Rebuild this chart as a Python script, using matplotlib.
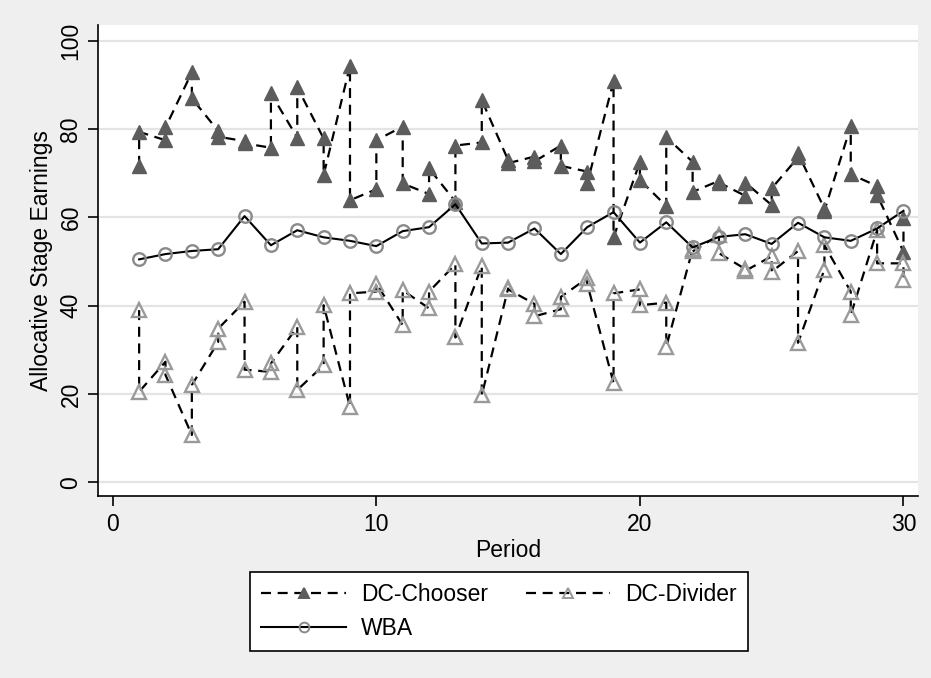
import numpy as np
import matplotlib
matplotlib.use("Agg")
from matplotlib import pyplot as plt

plt.rcParams['font.family'] = ['Liberation Sans', 'DejaVu Sans']

PERIOD = list(range(1, 31))

# two observations per period, listed in the order the line visits them
CHOOSER_A = [71.7, 77.5, 92.9, 79.6, 77.3, 75.8, 78.1, 77.9, 94.4, 66.4,
             80.6, 65.3, 63.6, 77.0, 73.0, 73.8, 76.3, 70.4, 90.9, 72.6,
             62.6, 72.6, 68.3, 64.9, 62.8, 73.6, 62.0, 80.7, 67.1, 52.2]
CHOOSER_B = [79.4, 80.4, 87.0, 78.3, 76.8, 88.1, 89.5, 69.6, 63.9, 77.5,
             67.7, 71.1, 76.3, 86.6, 72.3, 72.7, 71.7, 67.7, 55.5, 68.5,
             78.2, 65.8, 67.9, 67.9, 66.6, 74.5, 61.5, 69.8, 65.1, 59.8]

DIVIDER_A = [39.0, 27.3, 10.7, 31.8, 40.9, 25.0, 35.2, 26.5, 17.1, 43.2,
             35.6, 39.4, 49.4, 49.0, 43.9, 40.4, 39.2, 46.2, 22.5, 43.7,
             40.7, 52.8, 56.0, 48.3, 51.2, 52.4, 48.2, 43.2, 57.1, 49.6]
DIVIDER_B = [20.5, 24.3, 22.0, 34.8, 25.5, 26.9, 20.9, 40.1, 42.8, 45.0,
             43.5, 43.2, 32.8, 19.7, 43.7, 37.6, 42.0, 45.0, 42.8, 40.1,
             30.7, 52.3, 51.9, 47.9, 47.7, 31.6, 53.7, 37.9, 49.6, 45.8]

WBA = [50.5, 51.7, 52.4, 52.8, 60.3, 53.7, 57.1, 55.5, 54.7, 53.5,
       56.9, 57.8, 63.0, 54.1, 54.3, 57.5, 51.7, 57.8, 61.2, 54.3,
       58.9, 53.2, 55.6, 56.2, 54.0, 58.8, 55.5, 54.7, 57.5, 61.5]


def interleave(p, a, b):
    x = np.repeat(np.array(p), 2)
    y = np.column_stack([a, b]).ravel()
    return x, y


FS = 16.5

fig = plt.figure(figsize=(9.31, 6.78), dpi=100)
fig.patch.set_facecolor('#efefef')
ax = fig.add_axes([0.105, 0.268, 0.881, 0.695])
ax.set_facecolor('white')

for v in range(0, 101, 20):
    ax.axhline(v, color='#e4e4e4', lw=1.6, zorder=0)

x, y = interleave(PERIOD, CHOOSER_A, CHOOSER_B)
ch, = ax.plot(x, y, color='black', lw=1.6, dashes=(4.5, 3),
              marker='^', ms=10, mfc='#5c5c5c', mec='#5c5c5c',
              label='DC-Chooser', zorder=3)
x, y = interleave(PERIOD, DIVIDER_A, DIVIDER_B)
dv, = ax.plot(x, y, color='black', lw=1.6, dashes=(4.5, 3),
              marker='^', ms=10, mfc='none', mec='#9a9a9a', mew=1.7,
              label='DC-Divider', zorder=3)
wb, = ax.plot(PERIOD, WBA, color='black', lw=1.5,
              marker='o', ms=9, mfc='none', mec='#8a8a8a', mew=1.7,
              label='WBA', zorder=4)

ax.set_xlim(-0.57, 30.55)
ax.set_ylim(-3.2, 103.6)
ax.set_xticks([0, 10, 20, 30])
ax.set_yticks(range(0, 101, 20))
ax.tick_params(axis='both', direction='out', length=7, width=1.2,
               labelsize=FS, color='black')
ax.tick_params(axis='x', pad=5)
ax.tick_params(axis='y', pad=4)
for lab in ax.get_yticklabels():
    lab.set_rotation(90)
    lab.set_va('center')

for s in ['top', 'right']:
    ax.spines[s].set_visible(False)
for s in ['left', 'bottom']:
    ax.spines[s].set_linewidth(1.2)

ax.set_xlabel('Period', fontsize=FS, labelpad=2)
ax.set_ylabel('Allocative Stage Earnings', fontsize=FS, labelpad=5)

leg = fig.legend([ch, wb, dv], ['DC-Chooser', 'WBA', 'DC-Divider'],
                 loc='center', bbox_to_anchor=(0.536, 0.098), ncol=2,
                 fontsize=FS, frameon=True, fancybox=False,
                 edgecolor='black', facecolor='white', framealpha=1,
                 handlelength=3.7, handletextpad=0.65, columnspacing=1.65,
                 borderpad=0.5, labelspacing=0.45)
leg.get_frame().set_linewidth(1.2)
for h in leg.legend_handles:
    h.set_markersize(7)
    h.set_markeredgewidth(1.4)

fig.savefig('out.png', dpi=100, facecolor=fig.get_facecolor())
